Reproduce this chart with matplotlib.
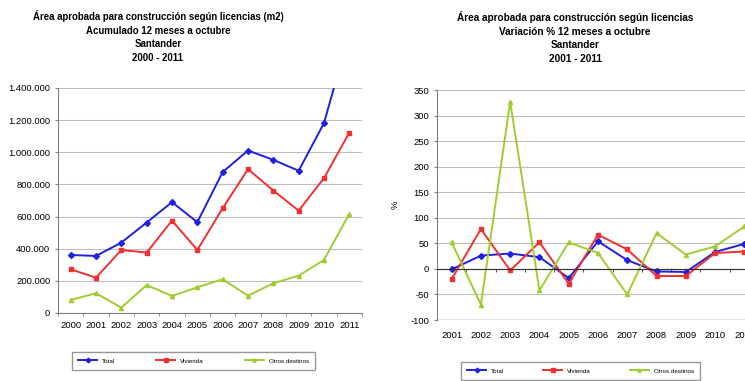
import matplotlib
matplotlib.use("Agg")
import matplotlib.pyplot as plt
from matplotlib.ticker import FuncFormatter

plt.rcParams["font.family"] = ["Liberation Sans", "DejaVu Sans"]
plt.rcParams["axes.unicode_minus"] = False

years_area = ["2000", "2001", "2002", "2003", "2004", "2005",
              "2006", "2007", "2008", "2009", "2010", "2011"]
total_area = [361000, 355000, 438000, 563000, 690000, 565000,
              877000, 1011000, 953000, 885000, 1182000, 1740000]
vivienda_area = [272000, 220000, 392000, 376000, 575000, 392000,
                 652000, 895000, 762000, 637000, 839000, 1123000]
otros_area = [81000, 123000, 33000, 174000, 106000, 160000,
              210000, 108000, 185000, 232000, 330000, 617000]

years_var = ["2001", "2002", "2003", "2004", "2005", "2006",
             "2007", "2008", "2009", "2010", "2011"]
total_var = [-1, 26, 30, 23, -18, 54, 17, -5, -6, 33, 49]
vivienda_var = [-20, 78, -3, 52, -29, 67, 38, -14, -14, 31, 34]
otros_var = [52, -70, 327, -42, 52, 31, -50, 70, 28, 44, 83]

series_names = ["Total", "Vivienda", "Otros destinos"]
colors = ["#2020E0", "#F03030", "#A0CC30"]
markers = ["D", "s", "^"]

W, H = 745, 381
fig = plt.figure(figsize=(W / 100, H / 100), dpi=100)


def box(x0, y0, x1, y1):
    return [x0 / W, 1 - y1 / H, (x1 - x0) / W, (y1 - y0) / H]


grid_col = "#BEBEBE"
axis_col = "#808080"
fs = 6.8

# ---- left chart ----
ax1 = fig.add_axes(box(58, 88, 362, 313))
x1 = range(len(years_area))
for vals, c, m, name in zip([total_area, vivienda_area, otros_area], colors, markers, series_names):
    ax1.plot(x1, vals, color=c, marker=m, markersize=3, linewidth=1.4, label=name)
ax1.set_xlim(-0.5, len(years_area) - 0.5)
ax1.set_ylim(0, 1400000)
ax1.set_yticks(range(0, 1400001, 200000))
ax1.yaxis.set_major_formatter(FuncFormatter(lambda v, p: f"{int(v):,}".replace(",", ".")))
ax1.set_xticks(list(x1))
ax1.set_xticklabels(years_area)
ax1.set_xticks([i - 0.5 for i in range(len(years_area) + 1)], minor=True)
ax1.tick_params(axis="x", which="major", length=0, labelsize=fs, pad=6)
ax1.tick_params(axis="x", which="minor", length=2.5, color=axis_col)
ax1.tick_params(axis="y", length=2.5, color=axis_col, labelsize=fs, pad=3)
ax1.grid(axis="y", color=grid_col, linewidth=0.8)
ax1.set_axisbelow(True)
for s in ["top", "right"]:
    ax1.spines[s].set_visible(False)
for s in ["left", "bottom"]:
    ax1.spines[s].set_color(axis_col)
ax1.legend(loc="upper left", bbox_to_anchor=(72 / W, 1 - 373 / H, 243 / W, 21 / H),
           bbox_transform=fig.transFigure, mode="expand", ncol=3, fontsize=4.5,
           frameon=True, fancybox=False, edgecolor="#7F7F7F", markerscale=0.8,
           handlelength=3, borderaxespad=0, borderpad=1.0, columnspacing=3)

fig.text(158 / W, 1 - 10 / H,
         "Área aprobada para construcción según licencias (m2)\nAcumulado 12 meses a octubre\nSantander\n2000 - 2011",
         ha="center", va="top", fontsize=6.9, fontweight="bold", linespacing=1.45)

# ---- right chart ----
ax2 = fig.add_axes(box(437, 90, 759, 320))
x2 = range(len(years_var))
for vals, c, m, name in zip([total_var, vivienda_var, otros_var], colors, markers, series_names):
    ax2.plot(x2, vals, color=c, marker=m, markersize=3, linewidth=1.4, label=name)
ax2.set_xlim(-0.5, len(years_var) - 0.5)
ax2.set_ylim(-100, 350)
ax2.set_yticks(range(-100, 351, 50))
ax2.set_xticks(list(x2))
ax2.set_xticklabels(years_var)
ax2.spines["bottom"].set_position(("data", 0))
ax2.spines["bottom"].set_color("#303030")
ax2.tick_params(axis="x", length=0, labelsize=fs, pad=45)
ax2.set_xticks([i - 0.5 for i in range(len(years_var) + 1)], minor=True)
ax2.tick_params(axis="x", which="minor", length=2, color="#303030")
ax2.tick_params(axis="y", length=2.5, color=axis_col, labelsize=fs, pad=3)
ax2.grid(axis="y", color=grid_col, linewidth=0.8)
ax2.axhline(-100, color=axis_col, linewidth=1.0, zorder=1)
ax2.set_axisbelow(True)
for s in ["top", "right"]:
    ax2.spines[s].set_visible(False)
ax2.spines["left"].set_color(axis_col)
ax2.set_ylabel("%", fontsize=fs, labelpad=8)
ax2.legend(loc="upper left", bbox_to_anchor=(461 / W, 1 - 384 / H, 239 / W, 22 / H),
           bbox_transform=fig.transFigure, mode="expand", ncol=3, fontsize=4.5,
           frameon=True, fancybox=False, edgecolor="#7F7F7F", markerscale=0.8,
           handlelength=3, borderaxespad=0, borderpad=1.0, columnspacing=3)

fig.text(575 / W, 1 - 11 / H,
         "Área aprobada para construcción según licencias\nVariación % 12 meses a octubre\nSantander\n2001 - 2011",
         ha="center", va="top", fontsize=7.2, fontweight="bold", linespacing=1.45)

fig.savefig("out.png", dpi=100)
